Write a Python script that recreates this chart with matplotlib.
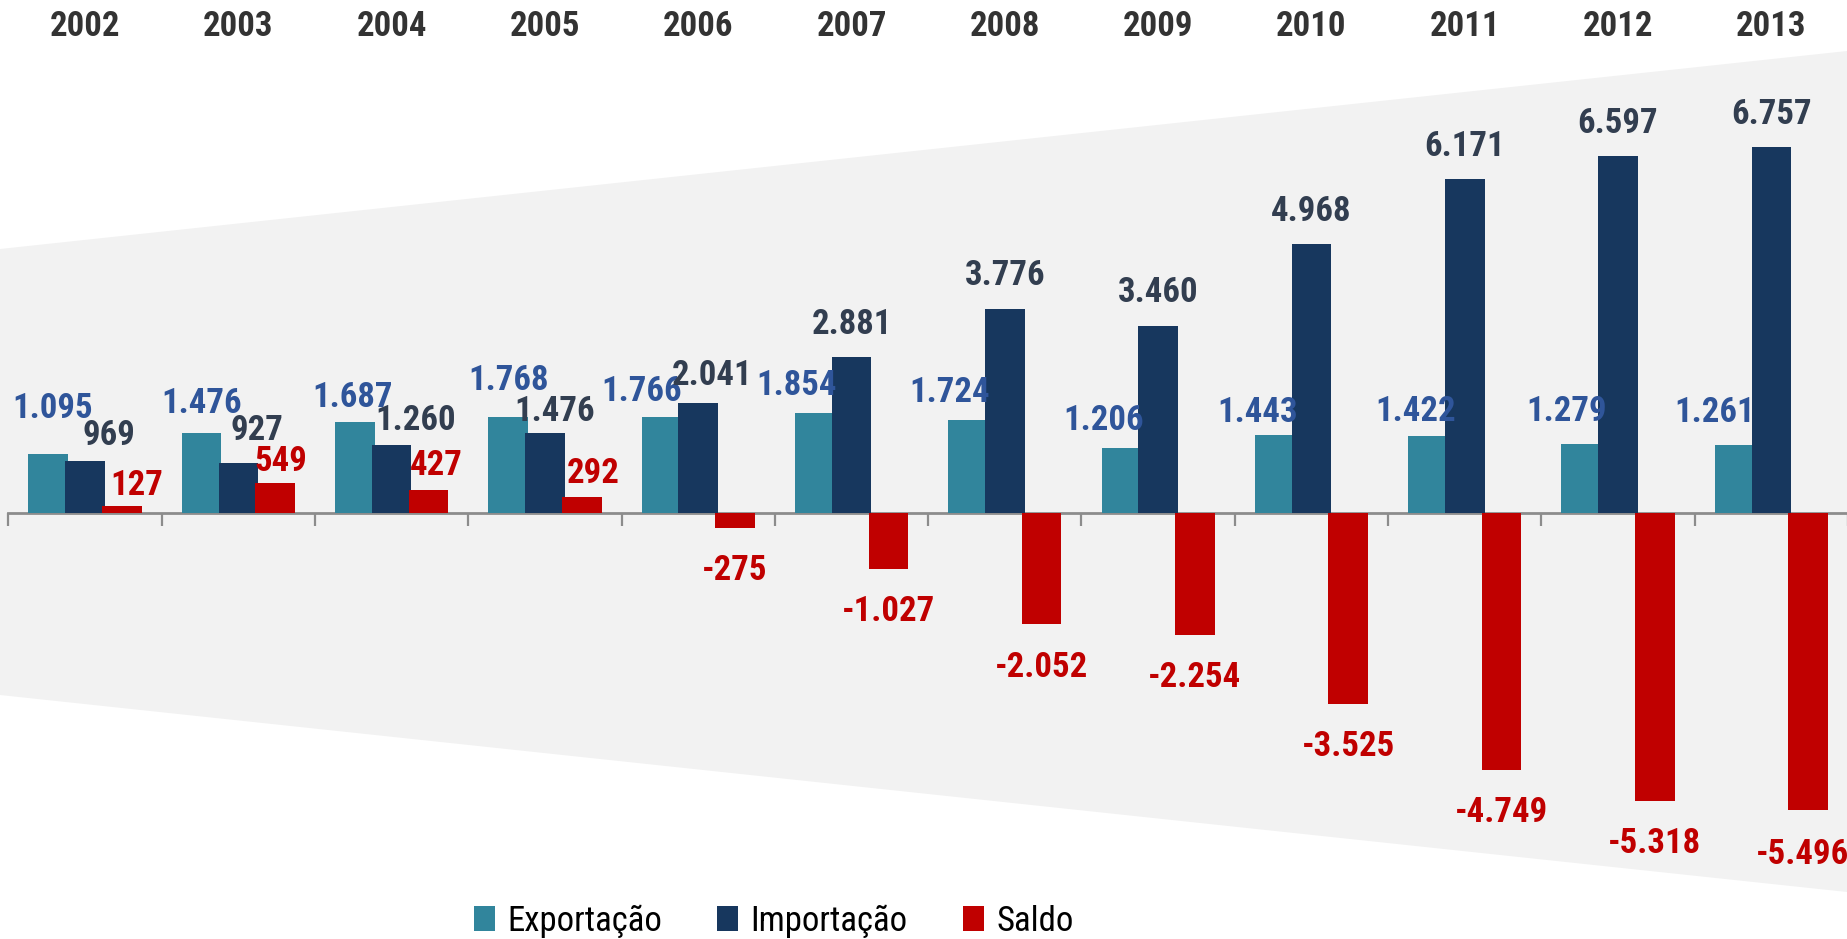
import matplotlib
matplotlib.use("Agg")
import matplotlib.pyplot as plt
import matplotlib.transforms as mtransforms
from matplotlib import font_manager
from matplotlib.patches import Polygon
import numpy as np

# ---------------- data ----------------
years = ["2002", "2003", "2004", "2005", "2006", "2007", "2008", "2009",
         "2010", "2011", "2012", "2013"]
exportacao = [1095, 1476, 1687, 1768, 1766, 1854, 1724, 1206, 1443, 1422, 1279, 1261]
importacao = [969, 927, 1260, 1476, 2041, 2881, 3776, 3460, 4968, 6171, 6597, 6757]
saldo = [127, 549, 427, 292, -275, -1027, -2052, -2254, -3525, -4749, -5318, -5496]
series_names = ["Exportação", "Importação", "Saldo"]

# ---------------- style ----------------
bar_colors = ["#31859C", "#17375E", "#C00000"]
label_colors = ["#2F559A", "#323E50", "#C00000"]
year_color = "#333333"

available = {f.name for f in font_manager.fontManager.ttflist}
family = None
for cand in ["Liberation Sans Narrow", "DejaVu Sans Condensed", "Roboto Condensed",
             "Open Sans Condensed", "Liberation Sans"]:
    if cand in available:
        family = cand
        break
plt.rcParams["font.family"] = [family, "DejaVu Sans"] if family else ["DejaVu Sans"]

W, H = 1847, 939
fig = plt.figure(figsize=(W / 100, H / 100), dpi=100)

# background trapezoid (figure pixel coordinates, measured from top)
poly_px = [(0, 249), (W, 51), (W, 892), (0, 695)]
poly = Polygon([(x / W, 1 - y / H) for x, y in poly_px], closed=True,
               transform=fig.transFigure, facecolor="#F2F2F2", edgecolor="none", zorder=-5)
fig.patches.append(poly)

# axes placement: baseline at y=513px, 0.0541 px per unit
ymin, ymax = -7000, 8000
scale = 0.0541
base_px = 513
top_px = base_px - ymax * scale
bot_px = base_px - ymin * scale
left_px, right_px = 8.4, 1848
ax = fig.add_axes([left_px / W, 1 - bot_px / H, (right_px - left_px) / W, (bot_px - top_px) / H])
ax.set_zorder(1)
ax.patch.set_visible(False)
ax.set_xlim(-0.5, len(years) - 0.5)
ax.set_ylim(ymin, ymax)

x = np.arange(len(years))
step = 0.24
width = 0.258
all_vals = [exportacao, importacao, saldo]
containers = []
for i, vals in enumerate(all_vals):
    c = ax.bar(x + (i - 1) * step, vals, width=width, color=bar_colors[i],
               label=series_names[i], zorder=3, linewidth=0)
    containers.append(c)

# axis styling
for s in ["top", "right", "left"]:
    ax.spines[s].set_visible(False)
ax.spines["bottom"].set_position(("data", 0))
ax.spines["bottom"].set_color("#8C8C8C")
ax.spines["bottom"].set_linewidth(2.0)
ax.spines["bottom"].set_zorder(2)
ax.set_yticks([])
ax.set_xticks(np.arange(-0.5, len(years) - 0.5 + 0.01, 1.0))
ax.tick_params(axis="x", direction="out", length=9.5, width=1.6, color="#8C8C8C",
               labelbottom=False)

# year labels on top
trans_year = mtransforms.blended_transform_factory(ax.transData, fig.transFigure)
for xi, yr in zip(x, years):
    ax.text(xi, 1 - 27 / H, yr, transform=trans_year,
            ha="center", va="center", fontsize=25, fontweight="bold", color=year_color)

# value labels: default offsets (pixels) per series, with a few manual nudges
default_off = {0: (-18, 27), 1: (0, 33), 2: (10, 23)}
neg_off = (0, -43)
nudges = {
    (0, 0): (4, 45), (0, 1): (0, 30), (0, 2): (-2, 24), (0, 3): (0, 37),
    (0, 4): (-20, 26),
    (0, 9): (-12, 25), (0, 10): (-15, 32), (0, 11): (-20, 32), (0, 8): (-17, 22),
    (1, 0): (24, 25), (1, 1): (19, 32), (1, 2): (24, 24), (1, 3): (10, 22), (1, 4): (14, 27),
    (2, 0): (15, 21), (2, 1): (6, 22), (2, 2): (8, 24), (2, 3): (11, 24),
    (2, 11): (-6, -44),
}


def fmt(v):
    return f"{v:,}".replace(",", ".")


for i, c in enumerate(containers):
    for j, rect in enumerate(c.patches):
        v = all_vals[i][j]
        cx = rect.get_x() + rect.get_width() / 2
        if v >= 0:
            off = nudges.get((i, j), default_off[i])
        else:
            off = nudges.get((i, j), neg_off)
        ax.annotate(fmt(v), xy=(cx, v), xytext=off, textcoords="offset pixels",
                    ha="center", va="center", fontsize=25, fontweight="bold",
                    color=label_colors[i], zorder=5, annotation_clip=False)

# legend
leg = fig.legend(handles=containers, labels=series_names, ncol=3, frameon=False,
                 loc="center left", bbox_to_anchor=(474 / W, 1 - 921 / H),
                 fontsize=25, handlelength=0.6, handleheight=0.7, handletextpad=0.35,
                 columnspacing=1.6, borderpad=0, borderaxespad=0)

fig.savefig("out.png", dpi=100)
